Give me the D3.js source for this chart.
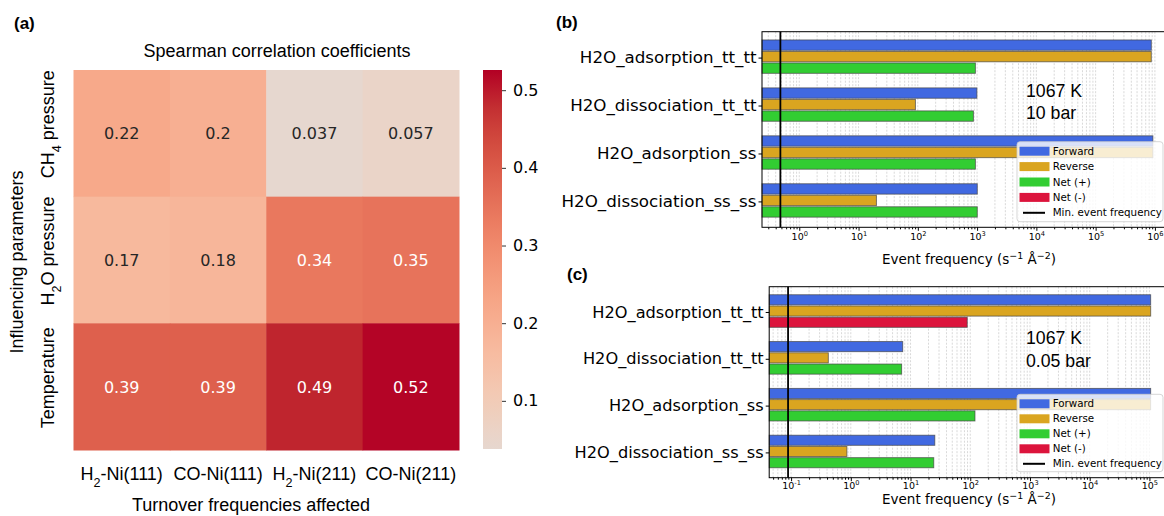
<!DOCTYPE html>
<html lang="en">
<head>
  <meta charset="UTF-8">
  <title>Spearman correlations and event frequencies</title>
  <script src="https://d3js.org/d3.v7.min.js"></script>
  <style>
    body { margin: 0; background: #fff; }
    svg text { fill: #000; }
    .sans { font-family: "Liberation Sans", Arial, sans-serif; }
    .dv { font-family: "DejaVu Sans", sans-serif; }
  </style>
</head>
<body>
<svg id="fig" width="1164" height="516"></svg>

<script>
// ---- panel (a) data ----
var tofLabels = ["H_{2}-Ni(111)", "CO-Ni(111)", "H_{2}-Ni(211)", "CO-Ni(211)"];
var paramLabels = ["CH_{4} pressure", "H_{2}O pressure", "Temperature"];
var rhoCH4 = [0.22, 0.2, 0.037, 0.057];
var rhoH2O = [0.17, 0.18, 0.34, 0.35];
var rhoT   = [0.39, 0.39, 0.49, 0.52];
var cbarTicks = [0.1, 0.2, 0.3, 0.4, 0.5];

// ---- panels (b) and (c) data ----
var events = ["H2O_adsorption_tt_tt", "H2O_dissociation_tt_tt", "H2O_adsorption_ss", "H2O_dissociation_ss_ss"];
var fwd10bar  = [8.7e5, 993, 9.25e5, 1007];
var rev10bar  = [8.69e5, 91, 9.24e5, 20];
var net10bar  = [936, 867, 936, 1007];
var minFreq10bar = 0.48;
var fwd005bar = [1.05e5, 7.4, 1.05e5, 25.5];
var rev005bar = [1.051e5, 0.42, 1.049e5, 0.86];
var net005bar = [-89, 7.1, 120, 24.5];
var minFreq005bar = 0.089;
var legendNames = ["Forward", "Reverse", "Net (+)", "Net (-)", "Min. event frequency"];
var barColors = ["#4169e1", "#daa520", "#32cd32", "#dc143c"];

// matplotlib coolwarm (Moreland) table
var cwStops = [0.5, 0.53125, 0.5625, 0.59375, 0.625, 0.65625, 0.6875, 0.71875, 0.75,
               0.78125, 0.8125, 0.84375, 0.875, 0.90625, 0.9375, 0.96875, 1.0];
var cwColors = ["rgb(221,221,221)", "rgb(229,216,209)", "rgb(236,211,197)", "rgb(241,204,184)",
                "rgb(245,196,172)", "rgb(247,187,160)", "rgb(247,177,148)", "rgb(247,166,135)",
                "rgb(244,154,123)", "rgb(241,141,111)", "rgb(236,127,99)", "rgb(229,112,88)",
                "rgb(222,96,77)", "rgb(213,80,66)", "rgb(203,62,56)", "rgb(192,40,47)", "rgb(180,4,38)"];

var svg = d3.select("#fig");

// text with _{sub} and ^{sup} parts
function rich(sel, str) {
  var re = /([_^])\{([^}]*)\}/g, last = 0, m;
  while ((m = re.exec(str))) {
    if (m.index > last) sel.append("tspan").text(str.slice(last, m.index));
    sel.append("tspan")
      .attr("baseline-shift", m[1] == "_" ? "sub" : "super")
      .attr("font-size", "70%")
      .text(m[2]);
    last = re.lastIndex;
  }
  if (last < str.length) sel.append("tspan").text(str.slice(last));
  return sel;
}

function panelLabel(txt, x, y) {
  svg.append("text").attr("class", "sans").attr("x", x).attr("y", y)
    .attr("font-size", 17).attr("font-weight", "bold").text(txt);
}

// ================= (a) heatmap =================
(function() {
  var rows = [rhoCH4, rhoH2O, rhoT];
  var all = d3.merge(rows);
  var vmax = d3.max(all);
  var coolwarm = d3.scaleLinear().domain(cwStops).range(cwColors).interpolate(d3.interpolateRgb);
  // seaborn center=0: only the warm half of the map is used
  var color = function(v) { return coolwarm(0.5 + v / (2 * vmax)); };

  var x = d3.scaleBand().domain(d3.range(tofLabels.length)).range([73.5, 459]);
  var y = d3.scaleBand().domain(d3.range(paramLabels.length)).range([70, 450]);

  var g = svg.append("g");
  rows.forEach(function(row, i) {
    g.selectAll(null).data(row).enter().append("rect")
      .attr("x", function(d, j) { return x(j); })
      .attr("y", y(i))
      .attr("width", x.bandwidth() + 0.5)
      .attr("height", y.bandwidth() + 0.5)
      .attr("fill", color);
    g.selectAll(null).data(row).enter().append("text")
      .attr("class", "dv")
      .attr("x", function(d, j) { return x(j) + x.bandwidth() / 2; })
      .attr("y", y(i) + y.bandwidth() / 2 + 6)
      .attr("text-anchor", "middle")
      .attr("font-size", 16)
      .style("fill", function(d) { return d > 0.3 ? "#fff" : "#262626"; })
      .text(function(d) { return String(d); });
  });

  // tick labels
  tofLabels.forEach(function(t, j) {
    rich(svg.append("text").attr("class", "sans").attr("font-size", 18)
      .attr("x", x(j) + x.bandwidth() / 2).attr("y", 480).attr("text-anchor", "middle"), t);
  });
  paramLabels.forEach(function(t, i) {
    var cy = y(i) + y.bandwidth() / 2 - 9;
    rich(svg.append("text").attr("class", "sans").attr("font-size", 18)
      .attr("text-anchor", "middle")
      .attr("transform", "translate(54," + cy + ") rotate(-90)"), t);
  });

  svg.append("text").attr("class", "sans").attr("font-size", 18)
    .attr("x", 277).attr("y", 57).attr("text-anchor", "middle")
    .text("Spearman correlation coefficients");
  svg.append("text").attr("class", "sans").attr("font-size", 18)
    .attr("x", 251).attr("y", 511).attr("text-anchor", "middle")
    .text("Turnover frequencies affected");
  svg.append("text").attr("class", "sans").attr("font-size", 18)
    .attr("text-anchor", "middle")
    .attr("transform", "translate(23,262) rotate(-90)")
    .text("Influencing parameters");

  // colorbar
  var cb = d3.scaleLinear().domain([0.038, 0.526]).range([449, 70]);
  var grad = svg.append("defs").append("linearGradient").attr("id", "cbgrad")
    .attr("x1", 0).attr("y1", 1).attr("x2", 0).attr("y2", 0);
  d3.range(0, 1.0001, 0.05).forEach(function(f) {
    var v = cb.domain()[0] + f * (cb.domain()[1] - cb.domain()[0]);
    grad.append("stop").attr("offset", f).attr("stop-color", color(v));
  });
  svg.append("rect").attr("x", 483).attr("y", 70).attr("width", 19).attr("height", 379)
    .attr("fill", "url(#cbgrad)");
  var cax = svg.append("g").attr("transform", "translate(502,0)")
    .call(d3.axisRight(cb).tickValues(cbarTicks).tickSize(4).tickPadding(7).tickSizeOuter(0)
      .tickFormat(function(d) { return String(d); }));
  cax.select(".domain").remove();
  cax.selectAll(".tick line").attr("stroke", "#333");
  cax.selectAll(".tick text").attr("class", "dv").attr("font-size", 16).attr("fill", "#000");

  panelLabel("(a)", 14, 29);
})();

// ================= (b), (c) bar panels =================
function eventPanel(opt) {
  var x = d3.scaleLog().domain(opt.xdom).range([opt.left, opt.right]);
  var y = d3.scalePoint().domain(events).range([opt.top, opt.bottom]).padding(0.54);
  var s = y.step();
  var g = svg.append("g");

  // grid (major + minor)
  var minor = x.ticks().filter(function(t) { return t > opt.xdom[0] && t < opt.xdom[1]; });
  g.selectAll(".grid").data(minor).enter().append("line")
    .attr("x1", x).attr("x2", x).attr("y1", opt.top).attr("y2", opt.bottom)
    .attr("stroke", "#c8c8c8").attr("stroke-width", 0.7).attr("stroke-dasharray", "2,1.5");

  // bars
  var series = [opt.fwd, opt.rev, opt.net];
  series.forEach(function(vals, k) {
    g.selectAll(null).data(vals).enter().append("rect")
      .attr("x", opt.left)
      .attr("y", function(d, i) { return y(events[i]) - 0.02 * s + (k - 1) * 0.24 * s - 0.108 * s; })
      .attr("height", 0.216 * s)
      .attr("width", function(d) { return x(Math.abs(d)) - opt.left; })
      .attr("fill", function(d) { return k < 2 ? barColors[k] : (d >= 0 ? barColors[2] : barColors[3]); })
      .attr("stroke", "#444").attr("stroke-opacity", 0.75).attr("stroke-width", 0.9);
  });

  // min event frequency
  g.append("line").attr("x1", x(opt.minFreq)).attr("x2", x(opt.minFreq))
    .attr("y1", opt.top).attr("y2", opt.bottom)
    .attr("stroke", "#000").attr("stroke-width", 1.8);

  // x axis: major + minor
  var majors = opt.exps.map(function(e) { return Math.pow(10, e); });
  var ax = g.append("g").attr("transform", "translate(0," + opt.bottom + ")")
    .call(d3.axisBottom(x).tickValues(majors).tickSize(3.5).tickSizeOuter(0).tickFormat(""));
  ax.select(".domain").remove();
  ax.selectAll(".tick text").each(function(d) {
    var t = d3.select(this).text(null).attr("class", "dv").attr("font-size", 9.5)
      .attr("fill", "#000").attr("dy", 0).attr("y", opt.tickY);
    rich(t, "10^{" + Math.round(Math.log10(d)) + "}");
  });
  var mx = g.append("g").attr("transform", "translate(0," + opt.bottom + ")")
    .call(d3.axisBottom(x).tickValues(minor.filter(function(t) { return majors.indexOf(t) < 0; }))
      .tickSize(2).tickSizeOuter(0).tickFormat(""));
  mx.select(".domain").remove();

  // y axis
  var ay = g.append("g").attr("transform", "translate(" + opt.left + ",0)")
    .call(d3.axisLeft(y).tickSize(3.5).tickSizeOuter(0).tickPadding(2));
  ay.select(".domain").remove();
  ay.selectAll(".tick text").attr("class", "dv").attr("font-size", opt.catSize).attr("fill", "#000");

  // spines (right spine falls outside the picture)
  g.append("rect").attr("x", opt.left).attr("y", opt.top)
    .attr("width", opt.right - opt.left).attr("height", opt.bottom - opt.top)
    .attr("fill", "none").attr("stroke", "#000").attr("stroke-width", 1);

  // conditions
  opt.note.forEach(function(t, i) {
    g.append("text").attr("class", "sans").attr("font-size", 17.7)
      .attr("x", 1026).attr("y", opt.noteY + i * 22.5).text(t);
  });

  // x label
  rich(g.append("text").attr("class", "dv").attr("font-size", 13.5)
    .attr("x", 969).attr("y", opt.xlabY).attr("text-anchor", "middle"),
    "Event frequency (s^{\u22121} \u00c5^{\u22122})");

  // legend
  var lg = g.append("g").attr("transform", "translate(1017," + opt.legY + ")");
  lg.append("rect").attr("width", 146).attr("height", opt.legH).attr("rx", 3)
    .attr("fill", "#fff").attr("fill-opacity", 0.8)
    .attr("stroke", "#ccc").attr("stroke-opacity", 0.8);
  legendNames.forEach(function(name, i) {
    var cy = 9.5 + i * opt.legStep;
    if (i < 4) {
      lg.append("rect").attr("x", 2.5).attr("y", cy - 4.5).attr("width", 30).attr("height", 9)
        .attr("fill", barColors[i]);
    } else {
      lg.append("line").attr("x1", 6).attr("x2", 28).attr("y1", cy).attr("y2", cy)
        .attr("stroke", "#000").attr("stroke-width", 2);
    }
    lg.append("text").attr("class", "dv").attr("font-size", 10.3)
      .attr("x", 35.7).attr("y", cy + 3.7).text(name);
  });
}

eventPanel({
  xdom: [0.235, 1.6e6], left: 762, right: 1167, top: 31.7, bottom: 227.3,
  fwd: fwd10bar, rev: rev10bar, net: net10bar, minFreq: minFreq10bar,
  exps: [0, 1, 2, 3, 4, 5, 6], catSize: 16.7, tickY: 12.5,
  note: ["1067 K", "10 bar"], noteY: 96.5, xlabY: 263.5,
  legY: 141.7, legH: 80, legStep: 15.4
});
eventPanel({
  xdom: [0.043, 1.97e5], left: 769.2, right: 1167, top: 286.7, bottom: 477.7,
  fwd: fwd005bar, rev: rev005bar, net: net005bar, minFreq: minFreq005bar,
  exps: [-1, 0, 1, 2, 3, 4, 5], catSize: 16.2, tickY: 11.5,
  note: ["1067 K", "0.05 bar"], noteY: 344, xlabY: 504,
  legY: 394.3, legH: 77.4, legStep: 15
});

panelLabel("(b)", 556, 28);
panelLabel("(c)", 567, 280);
</script>
</body>
</html>
